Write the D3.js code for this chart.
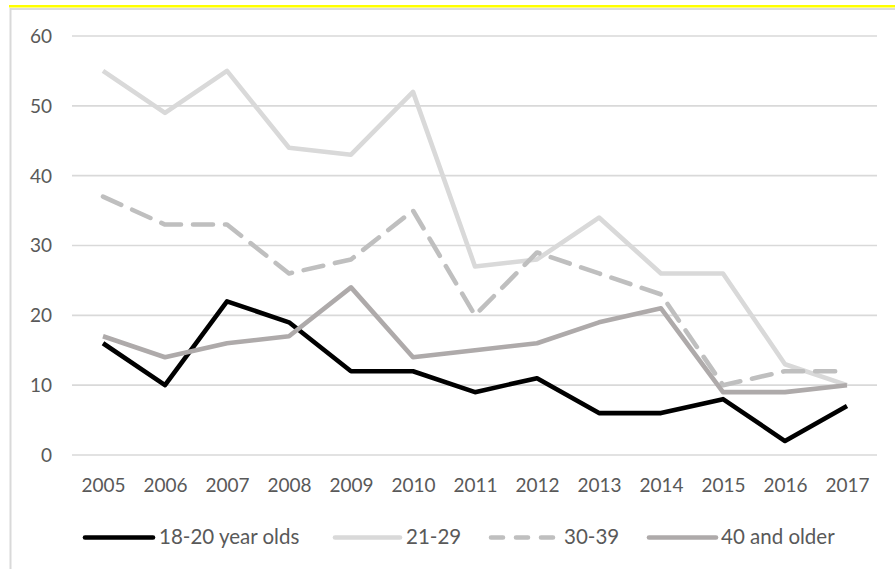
<!DOCTYPE html>
<html>
<head>
<meta charset="utf-8">
<script src="https://cdn.jsdelivr.net/npm/d3@7"></script>
<style>
  html, body { margin: 0; padding: 0; background: #ffffff; }
  svg { display: block; }
  text { font-family: Lato, "Open Sans", sans-serif; fill: #595959; }
</style>
</head>
<body>
<svg id="chart" width="895" height="569"></svg>
<script>
// Years on the horizontal axis
const years = ["2005","2006","2007","2008","2009","2010","2011","2012","2013","2014","2015","2016","2017"];

// One series per age group
const age18to20 = [16, 10, 22, 19, 12, 12, 9, 11, 6, 6, 8, 2, 7];
const age21to29 = [55, 49, 55, 44, 43, 52, 27, 28, 34, 26, 26, 13, 10];
const age30to39 = [37, 33, 33, 26, 28, 35, 20, 29, 26, 23, 10, 12, 12];
const age40plus = [17, 14, 16, 17, 24, 14, 15, 16, 19, 21, 9, 9, 10];

const seriesNames = ["18-20 year olds", "21-29", "30-39", "40 and older"];
const yTicks = [0, 10, 20, 30, 40, 50, 60];

const series = [
  { name: seriesNames[0], values: age18to20, color: "#000000", dash: null },
  { name: seriesNames[1], values: age21to29, color: "#d9d9d9", dash: null },
  { name: seriesNames[2], values: age30to39, color: "#bfbfbf", dash: "20,12" },
  { name: seriesNames[3], values: age40plus, color: "#aeaaaa", dash: null }
];

const svg = d3.select("#chart");

// Frame of the chart area
svg.append("line").attr("x1", 10).attr("x2", 895).attr("y1", 9).attr("y2", 9)
  .attr("stroke", "#dcdcdc").attr("stroke-width", 2);
svg.append("line").attr("x1", 10.5).attr("x2", 10.5).attr("y1", 8).attr("y2", 569)
  .attr("stroke", "#d9d9d9").attr("stroke-width", 2);
svg.append("line").attr("x1", 9).attr("x2", 895).attr("y1", 6.2).attr("y2", 6.2)
  .attr("stroke", "#ffff00").attr("stroke-width", 2.6);

const plotLeft = 72, plotRight = 877;
const x = d3.scalePoint().domain(years).range([103, 847]);
const y = d3.scaleLinear().domain([0, 60]).range([455, 36]);

// Horizontal gridlines
svg.append("g").selectAll("line").data(yTicks).join("line")
  .attr("x1", plotLeft).attr("x2", plotRight)
  .attr("y1", d => y(d)).attr("y2", d => y(d))
  .attr("stroke", "#d9d9d9").attr("stroke-width", 1.6);

// Value axis labels
const yAxis = d3.axisLeft(y).tickValues(yTicks).tickSize(0).tickPadding(0);
const gy = svg.append("g").attr("transform", "translate(52,0)").call(yAxis);
gy.select(".domain").remove();
gy.selectAll("text").attr("font-size", 19).attr("font-family", "Lato, sans-serif")
  .attr("fill", "#595959").attr("dy", "0.34em");

// Category axis labels
const xAxis = d3.axisBottom(x).tickSize(0).tickPadding(0);
const gx = svg.append("g").attr("transform", "translate(0,486)").call(xAxis);
gx.select(".domain").remove();
gx.selectAll("text").attr("font-size", 19).attr("font-family", "Lato, sans-serif")
  .attr("fill", "#595959").attr("dy", "0.34em");

// Series lines
const line = d3.line()
  .x((d, i) => x(years[i]))
  .y(d => y(d));

svg.append("g").selectAll("path").data(series).join("path")
  .attr("d", d => line(d.values))
  .attr("fill", "none")
  .attr("stroke", d => d.color)
  .attr("stroke-width", 4.6)
  .attr("stroke-linejoin", "round")
  .attr("stroke-linecap", d => d.dash ? "round" : "butt")
  .attr("stroke-dasharray", d => d.dash);

// Legend
const legendItems = [
  { x1: 85, x2: 153, tx: 159 },
  { x1: 335, x2: 400, tx: 406 },
  { x1: 491, x2: 556, tx: 564 },
  { x1: 649, x2: 716, tx: 721 }
];
const legendY = 537.5;
const lg = svg.append("g").selectAll("g").data(series).join("g");
lg.append("line")
  .attr("x1", (d, i) => legendItems[i].x1).attr("x2", (d, i) => legendItems[i].x2)
  .attr("y1", legendY).attr("y2", legendY)
  .attr("stroke", d => d.color).attr("stroke-width", 4.6)
  .attr("stroke-linecap", "round")
  .attr("stroke-dasharray", d => d.dash ? "12,13" : null);
lg.append("text")
  .attr("x", (d, i) => legendItems[i].tx).attr("y", legendY)
  .attr("dy", "0.34em").attr("font-size", 20.5)
  .text(d => d.name);
</script>
</body>
</html>
